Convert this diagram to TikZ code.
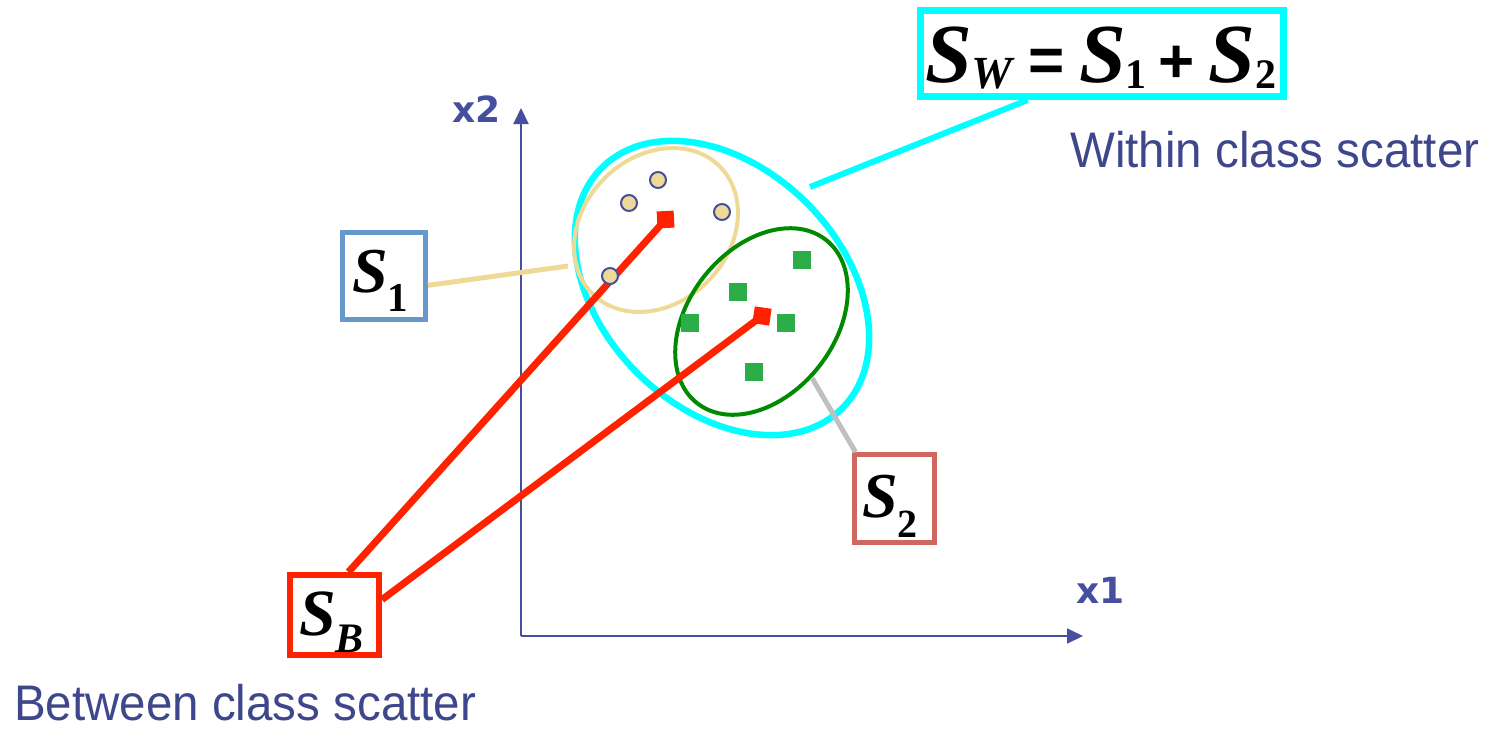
\documentclass[tikz,border=0pt]{standalone}
\usepackage{fontspec}
\usepackage{graphicx}
\setmainfont{Liberation Sans}
\newfontfamily\tms{Liberation Serif}
\newfontfamily\dvs{DejaVu Sans}
\usetikzlibrary{arrows.meta}
\definecolor{txtblue}{RGB}{62,70,140}
\definecolor{axisblue}{RGB}{70,78,160}
\definecolor{beige}{RGB}{238,218,150}
\definecolor{sqgreen}{RGB}{43,174,72}
\definecolor{ellgreen}{RGB}{0,138,0}
\definecolor{boxblue}{RGB}{102,152,204}
\definecolor{boxrose}{RGB}{206,103,96}
\definecolor{redline}{RGB}{255,34,0}
\definecolor{grayline}{RGB}{192,192,192}
\definecolor{aqua}{RGB}{0,255,255}
\newcommand\myS[1]{{\tms\fontsize{#1}{#1}\selectfont\bfseries\itshape S}}
\newcommand\mySub[3]{\raisebox{-#1pt}{\tms\fontsize{#2}{#2}\selectfont\bfseries #3}}
\newcommand\mySubI[3]{\raisebox{-#1pt}{\tms\fontsize{#2}{#2}\selectfont\bfseries\itshape #3}}
\newcommand\myOp[2]{\raisebox{#1pt}{\fontsize{62}{62}\selectfont\bfseries #2}}
\tikzset{
  framebox/.style={draw, rectangle, inner sep=0pt, fill=white},
  txt/.style={inner sep=0pt, anchor=base west},
  caption/.style={txt, text=txtblue, font=\fontsize{50}{60}\selectfont},
  axislabel/.style={txt, text=axisblue, font=\dvs\bfseries\fontsize{36}{40}\selectfont},
  axisline/.style={draw=axisblue, line width=2pt, -{Triangle[length=16pt,width=15pt]}},
  pt1/.style={circle, draw=axisblue, line width=2pt, fill=beige, minimum size=16pt, inner sep=0pt},
  pt2/.style={rectangle, fill=sqgreen, minimum size=18pt, inner sep=0pt},
  meanline/.style={draw=redline, line width=7pt, -{Kite[length=24pt,width=24pt,inset=12pt]}},
}
\begin{document}
\begin{tikzpicture}[x=1pt,y=1pt]
\useasboundingbox (0,0) rectangle (1494,-731);
% axes
\coordinate (O) at (521,-636);
\coordinate (Y) at (521,-108);
\coordinate (X) at (1083,-636);
\draw[axisline] (O) -- (Y);
\draw[axisline] (O) -- (X);
\node[axislabel] (lx2) at (452,-122) {x2};
\node[axislabel] (lx1) at (1076,-603) {x1};
% ellipses
\draw[aqua, line width=6.5pt, shift={(722,-288)}, rotate=-45] (0,0) ellipse [x radius=170pt, y radius=120pt];
\draw[beige, line width=4pt, shift={(656,-230)}, rotate=45] (0,0) ellipse [x radius=90pt, y radius=73pt];
\draw[ellgreen, line width=4pt, shift={(761.5,-321.5)}, rotate=51.6] (0,0) ellipse [x radius=104pt, y radius=73pt];
% boxes
\node[framebox, draw=boxblue, line width=5pt, minimum width=83pt, minimum height=87pt] (S1) at (384,-276) {};
\node[framebox, draw=boxrose, line width=5pt, minimum width=80pt, minimum height=88pt] (S2) at (894.5,-498.5) {};
\node[framebox, draw=redline, line width=6pt, minimum width=89pt, minimum height=80pt] (SB) at (334.5,-615) {};
\node[framebox, draw=aqua, line width=7pt, minimum width=363pt, minimum height=86pt] (SW) at (1102,-53.5) {};
% connectors
\coordinate (c1) at (568,-266);
\coordinate (c2) at (810,-187);
\coordinate (c3) at (812,-378);
\draw[beige, line width=5pt] (S1.-12.4) -- (c1);
\draw[aqua, line width=6pt] (SW.212) -- (c2);
\draw[grayline, line width=5pt] (S2.130) -- (c3);
% mean arrows
\coordinate (m1) at (673.6,-210.6);
\coordinate (m2) at (771.6,-308.8);
\draw[meanline] (SB.72.6) -- (m1);
\draw[meanline] (SB.18.6) -- (m2);
% points
\node[pt1] (p1) at (658,-180) {};
\node[pt1] (p2) at (629,-203) {};
\node[pt1] (p3) at (722,-212) {};
\node[pt1] (p4) at (610,-276) {};
\node[pt2] (q1) at (802,-260) {};
\node[pt2] (q2) at (738,-292) {};
\node[pt2] (q3) at (690,-323) {};
\node[pt2] (q4) at (786,-323) {};
\node[pt2] (q5) at (754,-372) {};
% box texts
\node[txt] (tS1) at (352,-292) {\myS{64}\mySub{19}{41}{1}};
\node[txt] (tS2) at (862,-517) {\myS{64}\mySub{20}{40}{2}};
\node[txt] (tSB) at (299,-635) {\myS{66}\mySubI{17}{42}{B}};
\node[txt] (tSW) at (925,-82) {\myS{84}\mySubI{6}{46}{W}\kern16pt\myOp{1}{=}\kern14pt\myS{84}\mySub{6}{42}{1}\kern12pt\myOp{0}{+}\kern14pt\myS{84}\mySub{6}{42}{2}};
% captions
\node[caption] (within) at (1070,-167) {\scalebox{0.95}[1]{Within class scatter}};
\node[caption] (between) at (14,-720) {\scalebox{0.95}[1]{Between class scatter}};
\end{tikzpicture}
\end{document}
